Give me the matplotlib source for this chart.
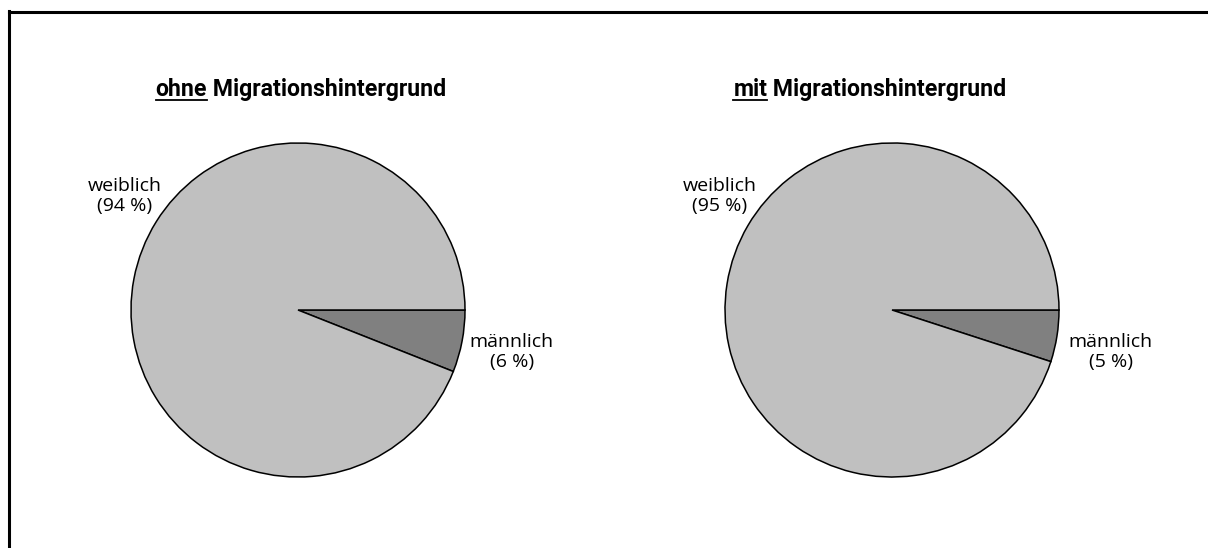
import matplotlib
matplotlib.use("Agg")
import matplotlib.pyplot as plt
from matplotlib.lines import Line2D

W, H = 1208, 548

groups = ["ohne", "mit"]
title_rest = " Migrationshintergrund"
labels = ["männlich", "weiblich"]
shares_ohne = [6, 94]
shares_mit = [5, 95]
colors = ["#808080", "#C0C0C0"]

fig = plt.figure(figsize=(W / 100, H / 100), dpi=100)
fig.patch.set_facecolor("white")

# frame (only top and left edge visible in the picture)
fig.add_artist(Line2D([9 / W, 9 / W], [0, 1 - 11 / H], color="black", lw=2.2))
fig.add_artist(Line2D([9 / W, 1], [1 - 12 / H, 1 - 12 / H], color="black", lw=2.2))

R = 167
centers = [(298, 310), (892, 310)]
title_cx = [301, 870]
label_pos = [
    {"weiblich": (-1.04, 0.68), "männlich": (1.28, -0.25)},
    {"weiblich": (-1.03, 0.68), "männlich": (1.31, -0.25)},
]

renderer = fig.canvas.get_renderer()

for i, shares in enumerate([shares_ohne, shares_mit]):
    cx, cy = centers[i]
    ax = fig.add_axes([(cx - R) / W, (H - cy - R) / H, 2 * R / W, 2 * R / H])
    ax.pie(shares, colors=colors, startangle=0, counterclock=False,
           wedgeprops=dict(edgecolor="black", linewidth=1.1))
    ax.set_xlim(-1, 1)
    ax.set_ylim(-1, 1)
    ax.set_aspect("equal")
    ax.axis("off")
    for lab, val in zip(labels, shares):
        x, y = label_pos[i][lab]
        ax.text(x, y, f"{lab}\n({val} %)", ha="center", va="center",
                fontsize=14, family="Open Sans", linespacing=1.15)

    # title: underlined first word + rest
    y_base = 1 - 96 / H
    t1 = fig.text(0, y_base, groups[i], fontsize=16.7, weight="bold",
                  family="Roboto", va="baseline")
    t2 = fig.text(0, y_base, title_rest, fontsize=16.7, weight="bold",
                  family="Roboto", va="baseline")
    w1 = t1.get_window_extent(renderer).width
    w2 = t2.get_window_extent(renderer).width
    left = title_cx[i] - (w1 + w2) / 2
    t1.set_x(left / W)
    t2.set_x((left + w1) / W)
    uy = 1 - 100 / H
    fig.add_artist(Line2D([left / W, (left + w1) / W], [uy, uy], color="black", lw=1.3))

fig.savefig("out.png", dpi=100)
